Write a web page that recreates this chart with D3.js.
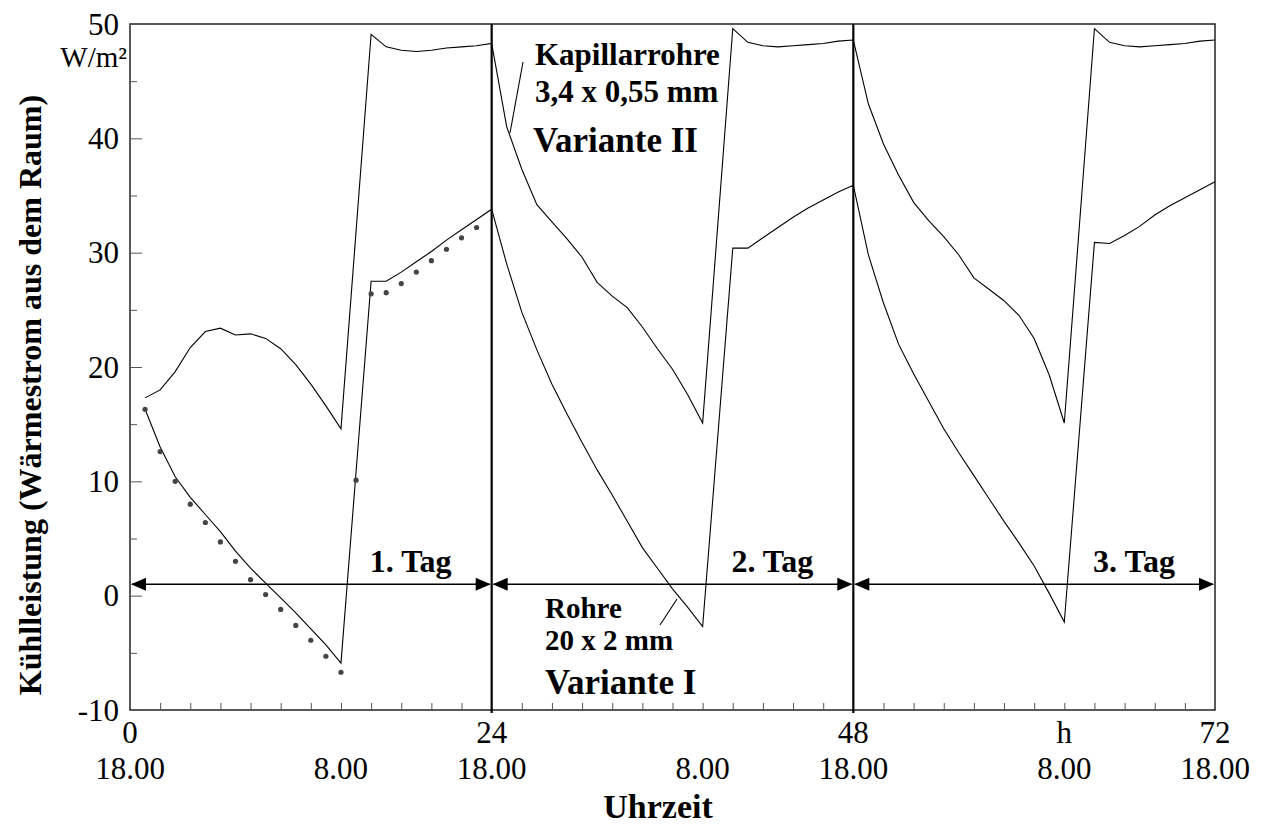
<!DOCTYPE html>
<html>
<head>
<meta charset="utf-8">
<script src="https://cdn.jsdelivr.net/npm/d3@7"></script>
<style>
  body { margin: 0; background: #fff; }
  svg { display: block; }
  text { font-family: "Liberation Serif", "Times New Roman", serif; fill: #000; }
</style>
</head>
<body>
<svg id="chart" width="1268" height="825"></svg>
<script>
// ---------------- data ----------------
const hours = d3.range(1, 73); // 1..72 h
// Variante II (Kapillarrohre 3,4 x 0,55 mm) – null = no sample
const varianteII = [
  17.3, 18.0, 19.6, 21.7, 23.1, 23.4, 22.8, 22.9, 22.5, 21.6, 20.2, 18.5, 16.6, 14.6,
  null, 49.1, 48.0, 47.7, 47.6, 47.7, 47.9, 48.0, 48.1, 48.3,
  41.0, 37.3, 34.2, 32.7, 31.2, 29.6, 27.4, 26.2, 25.2, 23.5, 21.6, 19.8, 17.6, 15.1,
  null, 49.6, 48.4, 48.1, 48.0, 48.1, 48.2, 48.3, 48.5, 48.6,
  43.0, 39.5, 36.8, 34.4, 32.8, 31.4, 29.8, 27.8, 26.8, 25.8, 24.5, 22.5, 19.3, 15.1,
  null, 49.6, 48.4, 48.1, 48.0, 48.1, 48.2, 48.3, 48.5, 48.6
];
// Variante I (Rohre 20 x 2 mm)
const varianteI = [
  16.3, 13.0, 10.4, 8.6, 7.1, 5.6, 3.9, 2.4, 1.1, -0.2, -1.5, -2.9, -4.3, -5.9,
  null, 27.5, 27.5, 28.3, 29.2, 30.1, 31.1, 32.0, 32.9, 33.8,
  29.0, 24.8, 21.5, 18.5, 15.9, 13.4, 11.0, 8.8, 6.5, 4.2, 2.4, 0.6, -1.0, -2.7,
  null, 30.4, 30.4, 31.3, 32.2, 33.1, 33.9, 34.6, 35.3, 35.9,
  29.8, 25.6, 22.0, 19.4, 17.0, 14.6, 12.5, 10.5, 8.5, 6.5, 4.6, 2.6, 0.2, -2.3,
  null, 30.9, 30.8, 31.5, 32.3, 33.3, 34.1, 34.8, 35.5, 36.2
];
// measured points, day 1 (h = 1..23)
const dotHours = d3.range(1, 24);
const dotValues = [16.3, 12.6, 10.0, 8.0, 6.4, 4.7, 3.0, 1.4, 0.1, -1.2, -2.6, -3.9, -5.3, -6.7,
  10.1, 26.4, 26.5, 27.3, 28.3, 29.3, 30.3, 31.3, 32.2];

const yTicks = [-10, 0, 10, 20, 30, 40, 50];
const yMinorTicks = [-5, 5, 15, 25, 35, 45];
const xHourTicks = [0, 24, 48, 62, 72];
const xHourLabels = ["0", "24", "48", "h", "72"];
const xClockTicks = [0, 14, 24, 38, 48, 62, 72];
const xClockLabels = ["18.00", "8.00", "18.00", "8.00", "18.00", "8.00", "18.00"];
const dayBounds = [0, 24, 48, 72];
const dayLabels = ["1. Tag", "2. Tag", "3. Tag"];
const arrowLevel = 1;

// ---------------- layout ----------------
const L = 130, R = 1215, T = 24, B = 710;
const svg = d3.select("#chart");
const x = d3.scaleLinear().domain([0, 72]).range([L, R]);
const y = d3.scaleLinear().domain([-10, 50]).range([B, T]);

// frame
svg.append("rect").attr("x", L).attr("y", T).attr("width", R - L).attr("height", B - T)
  .attr("fill", "none").attr("stroke", "#222").attr("stroke-width", 1.5);

// y ticks (inside)
const yAxis = d3.axisRight(y).tickValues(yTicks).tickSize(12).tickFormat("");
svg.append("g").attr("transform", `translate(${L},0)`).call(yAxis)
  .call(g => g.select(".domain").remove())
  .call(g => g.selectAll("line").attr("stroke", "#555").attr("stroke-width", 1));
const yAxisMinor = d3.axisRight(y).tickValues(yMinorTicks).tickSize(7).tickFormat("");
svg.append("g").attr("transform", `translate(${L},0)`).call(yAxisMinor)
  .call(g => g.select(".domain").remove())
  .call(g => g.selectAll("line").attr("stroke", "#555").attr("stroke-width", 1));
// y labels
svg.append("g").selectAll("text").data(yTicks).join("text")
  .attr("x", L - 11).attr("y", d => y(d)).attr("dy", "0.34em")
  .attr("text-anchor", "end").attr("font-size", 31).text(d => d);
svg.append("text").attr("x", 127).attr("y", 67).attr("text-anchor", "end")
  .attr("font-size", 29).text("W/m²");

// x minor ticks (inside, every 2 h)
const xAxis = d3.axisTop(x).tickValues(d3.range(2, 72, 2).filter(d => d % 24 !== 0))
  .tickSize(7).tickFormat("");
svg.append("g").attr("transform", `translate(0,${B})`).call(xAxis)
  .call(g => g.select(".domain").remove())
  .call(g => g.selectAll("line").attr("stroke", "#555").attr("stroke-width", 1));

// x labels
svg.append("g").selectAll("text").data(xHourTicks).join("text")
  .attr("x", d => x(d)).attr("y", 743).attr("text-anchor", "middle")
  .attr("font-size", 31).text((d, i) => xHourLabels[i]);
svg.append("g").selectAll("text").data(xClockTicks).join("text")
  .attr("x", d => x(d)).attr("y", 779).attr("text-anchor", "middle")
  .attr("font-size", 31).text((d, i) => xClockLabels[i]);

// day separators
svg.append("g").selectAll("line").data([24, 48]).join("line")
  .attr("x1", d => x(d)).attr("x2", d => x(d)).attr("y1", T).attr("y2", B + 3)
  .attr("stroke", "#000").attr("stroke-width", 2.2);

// curves
const line = d3.line().x(d => x(d.h)).y(d => y(d.v));
function series(vals) {
  return hours.map((h, i) => ({ h, v: vals[i] })).filter(d => d.v !== null);
}
svg.append("path").datum(series(varianteII)).attr("d", line)
  .attr("fill", "none").attr("stroke", "#000").attr("stroke-width", 1.1);
svg.append("path").datum(series(varianteI)).attr("d", line)
  .attr("fill", "none").attr("stroke", "#000").attr("stroke-width", 1.1);

// dots
svg.append("g").selectAll("circle").data(dotHours.map((h, i) => ({ h, v: dotValues[i] })))
  .join("circle").attr("cx", d => x(d.h)).attr("cy", d => y(d.v)).attr("r", 2.6)
  .attr("fill", "#444");

// day arrows
const ay = y(arrowLevel);
const AL = 15, AH = 6.5;
dayLabels.forEach((lab, i) => {
  const x0 = x(dayBounds[i]), x1 = x(dayBounds[i + 1]);
  svg.append("line").attr("x1", x0 + 2).attr("x2", x1 - 2).attr("y1", ay).attr("y2", ay)
    .attr("stroke", "#000").attr("stroke-width", 1.6);
  svg.append("path").attr("d", `M${x0 + 1},${ay} L${x0 + 1 + AL},${ay - AH} L${x0 + 1 + AL},${ay + AH} Z`)
    .attr("fill", "#000");
  svg.append("path").attr("d", `M${x1 - 1},${ay} L${x1 - 1 - AL},${ay - AH} L${x1 - 1 - AL},${ay + AH} Z`)
    .attr("fill", "#000");
  svg.append("text").attr("x", x1 - 81).attr("y", ay - 12).attr("text-anchor", "middle")
    .attr("font-size", 32).attr("font-weight", "bold").text(lab);
});

// annotations
function bold(tx, ty, s, txt) {
  svg.append("text").attr("x", tx).attr("y", ty).attr("font-size", s)
    .attr("font-weight", "bold").text(txt);
}
bold(535, 65, 31, "Kapillarrohre");
bold(535, 102, 31, "3,4 x 0,55 mm");
bold(533, 152, 35, "Variante II");
svg.append("line").attr("x1", 523).attr("y1", 62).attr("x2", 510).attr("y2", 133)
  .attr("stroke", "#000").attr("stroke-width", 1.1);
bold(545, 618, 29, "Rohre");
bold(545, 650, 29, "20 x 2 mm");
bold(545, 694, 35, "Variante I");
svg.append("line").attr("x1", 660).attr("y1", 625).attr("x2", 677).attr("y2", 599)
  .attr("stroke", "#000").attr("stroke-width", 1.1);

// axis titles
svg.append("text").attr("transform", `translate(41,395) rotate(-90)`)
  .attr("text-anchor", "middle").attr("font-size", 32).attr("font-weight", "bold")
  .text("Kühlleistung  (Wärmestrom aus dem Raum)");
svg.append("text").attr("x", 658).attr("y", 818).attr("text-anchor", "middle")
  .attr("font-size", 34).attr("font-weight", "bold").text("Uhrzeit");
</script>
</body>
</html>
